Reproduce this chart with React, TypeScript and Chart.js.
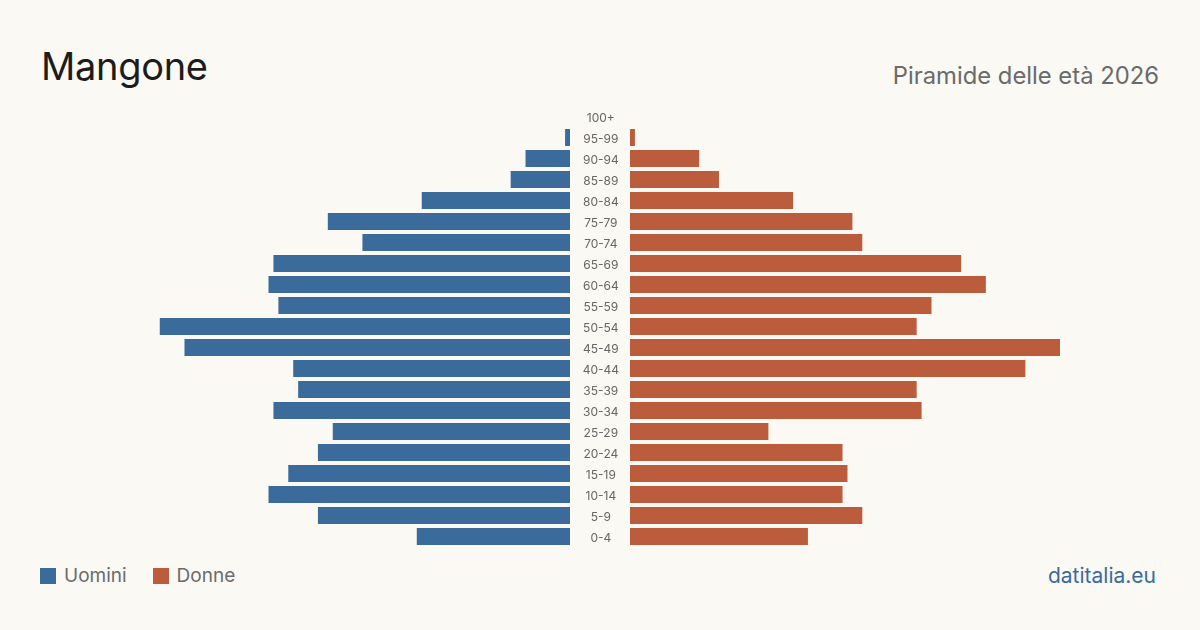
import React, { useEffect, useRef } from "react";
import { Chart, registerables } from "chart.js";

Chart.register(...registerables);

// Age classes, top of the pyramid first
const ageClasses = [
  "100+", "95-99", "90-94", "85-89", "80-84", "75-79", "70-74", "65-69",
  "60-64", "55-59", "50-54", "45-49", "40-44", "35-39", "30-34", "25-29",
  "20-24", "15-19", "10-14", "5-9", "0-4",
];

// Residents per age class
const men = [0, 1, 9, 12, 30, 49, 42, 60, 61, 59, 83, 78, 56, 55, 60, 48, 51, 57, 61, 51, 31];
const women = [0, 1, 14, 18, 33, 45, 47, 67, 72, 61, 58, 87, 80, 58, 59, 28, 43, 44, 43, 47, 36];

const axisMax = Math.max(...men, ...women);

const BLUE = "#3b6b9b";
const ORANGE = "#bb5d3d";
const BG = "#faf9f4";
const FONT = "Inter, 'DejaVu Sans', sans-serif";

function useBarChart(
  ref: React.RefObject<HTMLCanvasElement | null>,
  values: number[],
  color: string,
  side: "left" | "right"
) {
  useEffect(() => {
    if (!ref.current) return;
    const showLabels = side === "right";
    const chart = new Chart(ref.current, {
      type: "bar",
      data: {
        labels: ageClasses,
        datasets: [
          {
            data: values,
            backgroundColor: color,
            borderWidth: 0,
            categoryPercentage: 1,
            barPercentage: 0.81,
          },
        ],
      },
      options: {
        indexAxis: "y",
        animation: false,
        responsive: false,
        maintainAspectRatio: false,
        layout: { padding: 0 },
        plugins: { legend: { display: false }, tooltip: { enabled: false } },
        scales: {
          x: {
            display: false,
            min: 0,
            max: axisMax,
            reverse: side === "left",
          },
          y: {
            display: showLabels,
            grid: { display: false },
            border: { display: false },
            ticks: {
              color: "#666",
              font: { family: FONT, size: 12 },
              crossAlign: "center",
              padding: 3,
              labelOffset: 1.5,
            },
            afterFit: (scale: any) => {
              if (!showLabels) return;
              // fixed-width label column between the two halves
              scale.width = 60;
              scale.paddingTop = 0;
              scale.paddingBottom = 0;
            },
          },
        },
      },
    });
    return () => chart.destroy();
  }, []);
}

export default function App() {
  const leftRef = useRef<HTMLCanvasElement>(null);
  const rightRef = useRef<HTMLCanvasElement>(null);
  useBarChart(leftRef, men, BLUE, "left");
  useBarChart(rightRef, women, ORANGE, "right");

  return (
    <div
      style={{
        position: "fixed",
        left: 0,
        top: 0,
        width: 1200,
        height: 630,
        background: BG,
        fontFamily: FONT,
        overflow: "hidden",
      }}
    >
      <div
        style={{
          position: "absolute",
          left: 41,
          top: 41,
          fontSize: 38,
          lineHeight: "50px",
          color: "#1c1c1c",
          letterSpacing: -0.3,
        }}
      >
        Mangone
      </div>
      <div
        style={{
          position: "absolute",
          right: 41,
          top: 61,
          fontSize: 23.8,
          lineHeight: "30px",
          color: "#6b6b6b",
        }}
      >
        Piramide delle età 2026
      </div>

      <canvas
        ref={leftRef}
        width={430}
        height={441}
        style={{ position: "absolute", left: 140, top: 106 }}
      />
      <canvas
        ref={rightRef}
        width={490}
        height={441}
        style={{ position: "absolute", left: 570, top: 106 }}
      />

      <div
        style={{
          position: "absolute",
          left: 40,
          top: 563,
          display: "flex",
          alignItems: "center",
          fontSize: 19,
          lineHeight: "26px",
          color: "#6b6b6b",
        }}
      >
        <span style={{ width: 16, height: 16, background: BLUE, display: "inline-block", marginRight: 8 }} />
        <span style={{ marginRight: 26 }}>Uomini</span>
        <span style={{ width: 16, height: 16, background: ORANGE, display: "inline-block", marginRight: 8 }} />
        <span>Donne</span>
      </div>
      <div
        style={{
          position: "absolute",
          right: 44,
          top: 562,
          fontSize: 21,
          lineHeight: "28px",
          color: "#3b6b9b",
        }}
      >
        datitalia.eu
      </div>
    </div>
  );
}
